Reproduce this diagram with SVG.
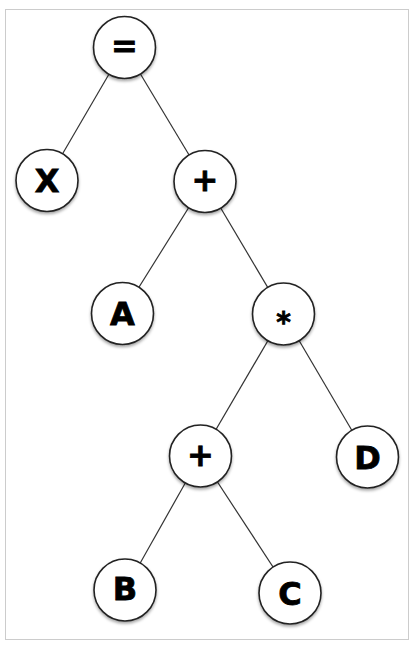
<svg xmlns="http://www.w3.org/2000/svg" width="417" height="650" viewBox="0 0 417 650">
<style>
.node circle{fill:#fff;stroke:#222;stroke-width:1.6;filter:url(#sh)}
.node text{font-family:"DejaVu Sans","Liberation Sans",sans-serif;font-weight:bold;font-size:32px;fill:#000;text-anchor:middle;dominant-baseline:central;stroke:#000;stroke-width:0.8}
.edges line{stroke:#333;stroke-width:1.2}
</style>
<defs>
<filter id="sh" x="-20%" y="-20%" width="140%" height="150%">
<feDropShadow dx="0" dy="2" stdDeviation="1.5" flood-color="#000" flood-opacity="0.35"/>
</filter>
</defs>
<rect x="5.5" y="9.5" width="403" height="630" fill="#fff" stroke="#ccc" stroke-width="1"/>
<g class="edges">
<line x1="124.5" y1="47.5" x2="47" y2="180.5"/>
<line x1="124.5" y1="47.5" x2="205" y2="181.5"/>
<line x1="205" y1="181.5" x2="122.5" y2="313.5"/>
<line x1="205" y1="181.5" x2="283.5" y2="314"/>
<line x1="283.5" y1="314" x2="200.5" y2="456"/>
<line x1="283.5" y1="314" x2="367.5" y2="457"/>
<line x1="200.5" y1="456" x2="125" y2="590"/>
<line x1="200.5" y1="456" x2="290" y2="593"/>
</g>
<g id="n-eq" class="node"><circle cx="124.5" cy="47.5" r="31"/><text x="124.5" y="46">=</text></g>
<g id="n-x" class="node"><circle cx="47" cy="180.5" r="31"/><text x="47" y="181">X</text></g>
<g id="n-plus1" class="node"><circle cx="205" cy="181.5" r="31"/><text x="205" y="180">+</text></g>
<g id="n-a" class="node"><circle cx="122.5" cy="313.5" r="31"/><text x="122.5" y="314">A</text></g>
<g id="n-mul" class="node"><circle cx="283.5" cy="314" r="31"/><text x="283.5" y="322" style="font-size:28px">*</text></g>
<g id="n-plus2" class="node"><circle cx="200.5" cy="456" r="31"/><text x="200.5" y="455">+</text></g>
<g id="n-d" class="node"><circle cx="367.5" cy="457" r="31"/><text x="367.5" y="458">D</text></g>
<g id="n-b" class="node"><circle cx="125" cy="590" r="31"/><text x="125" y="589">B</text></g>
<g id="n-c" class="node"><circle cx="290" cy="593" r="31"/><text x="290" y="594">C</text></g>
</svg>
